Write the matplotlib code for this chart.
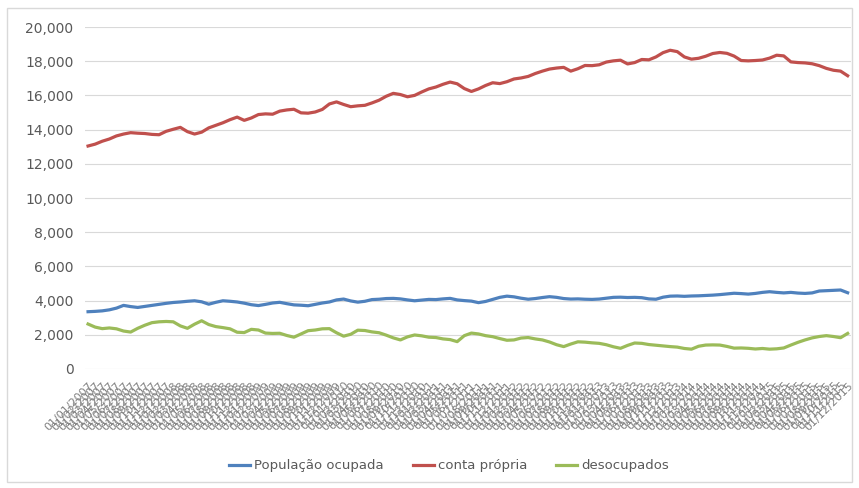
import numpy as np
import pandas as pd
import matplotlib
matplotlib.use('Agg')
import matplotlib.pyplot as plt
from matplotlib.ticker import FuncFormatter
from matplotlib.patches import Rectangle

# monthly categories (labels are unreadable in the original, dd/mm/yyyy)
meses = list(pd.date_range('2007-01-01', periods=108, freq='MS').strftime('%d/%m/%Y'))

conta_propria = [
    13040, 13150, 13320, 13450, 13630, 13740, 13820, 13790, 13770, 13720,
    13700, 13900, 14020, 14130, 13880, 13740, 13850, 14100, 14250, 14400,
    14580, 14730, 14540, 14680, 14880, 14920, 14900, 15080, 15150, 15190,
    14980, 14960, 15030, 15180, 15500, 15620, 15470, 15340, 15390, 15420,
    15560, 15720, 15950, 16120, 16050, 15920, 16000, 16200, 16380, 16490,
    16650, 16780, 16680, 16400, 16230, 16380, 16580, 16740, 16690, 16800,
    16960, 17020, 17110, 17280, 17420, 17540, 17600, 17640, 17420, 17560,
    17750, 17740, 17790, 17950, 18020, 18060, 17840, 17920, 18100, 18080,
    18250, 18500, 18640, 18560, 18250, 18120, 18170, 18290, 18450, 18510,
    18460, 18300, 18040, 18020, 18040, 18070, 18180, 18350, 18310, 17960,
    17920, 17900, 17850, 17740, 17580, 17470, 17420, 17150]

populacao_ocupada = [
    3350, 3370, 3400, 3460, 3560, 3720, 3650, 3600, 3660, 3720,
    3780, 3840, 3890, 3920, 3960, 3990, 3930, 3790, 3900, 3990,
    3960, 3920, 3850, 3760, 3710, 3780, 3860, 3900, 3820, 3750,
    3730, 3700, 3780, 3860, 3920, 4040, 4090, 3980, 3910, 3960,
    4060, 4080, 4120, 4130, 4100, 4040, 3990, 4030, 4070, 4060,
    4100, 4130, 4040, 4000, 3970, 3880, 3950, 4070, 4190, 4260,
    4220, 4140, 4080, 4120, 4180, 4230, 4190, 4120, 4090, 4100,
    4080, 4070, 4090, 4140, 4190, 4200, 4180, 4190, 4170, 4100,
    4080, 4200, 4260, 4270, 4250, 4270, 4280, 4300, 4320, 4350,
    4390, 4430, 4410, 4380, 4420, 4480, 4520, 4480, 4450, 4480,
    4440, 4420, 4450, 4560, 4580, 4600, 4620, 4460]

desocupados = [
    2630, 2450, 2360, 2400, 2350, 2220, 2160, 2380, 2560, 2710,
    2760, 2780, 2760, 2520, 2380, 2620, 2820, 2600, 2480, 2420,
    2350, 2150, 2130, 2320, 2280, 2100, 2080, 2090, 1960, 1860,
    2050, 2240, 2280, 2350, 2360, 2120, 1920, 2030, 2270, 2250,
    2170, 2120, 1980, 1820, 1700, 1880, 1990, 1940, 1860, 1840,
    1760, 1720, 1600, 1950, 2100, 2050, 1950, 1890, 1780, 1680,
    1700, 1810, 1840, 1760, 1700, 1580, 1420, 1310, 1460, 1590,
    1570, 1530, 1500, 1420, 1300, 1210, 1380, 1520, 1500, 1430,
    1390, 1350, 1310, 1280, 1200, 1160, 1330, 1400, 1410, 1400,
    1320, 1220, 1230, 1210, 1170, 1200, 1160, 1180, 1230, 1400,
    1560, 1700, 1820, 1900, 1950, 1900, 1830, 2080]

plt.rcParams['font.family'] = ['DejaVu Sans']
cinza = '#595959'

fig = plt.figure(figsize=(8.59, 4.88), dpi=100)
fig.patches.append(Rectangle((7/859, 6/488), 845/859, 474/488, transform=fig.transFigure,
                             fill=False, edgecolor='#D9D9D9', linewidth=1))

ax = fig.add_axes([84.5/859, 1 - 369/488, (851.2 - 84.5)/859, (369 - 27)/488])

x = np.arange(len(meses))
ax.plot(x, populacao_ocupada, color='#4F81BD', lw=2.3, label='População ocupada')
ax.plot(x, conta_propria, color='#C0504D', lw=2.3, label='conta própria')
ax.plot(x, desocupados, color='#9BBB59', lw=2.3, label='desocupados')

ax.set_xlim(-0.5, len(meses) - 0.5)
ax.set_ylim(0, 20000)
ax.set_yticks(np.arange(0, 20001, 2000))
ax.yaxis.set_major_formatter(FuncFormatter(lambda v, p: '{:,.0f}'.format(v)))
ax.grid(axis='y', color='#D9D9D9', lw=0.8)
ax.set_axisbelow(True)
for s in ax.spines.values():
    s.set_visible(False)

ax.set_xticks(x)
ax.set_xticklabels(meses, rotation=45, ha='right', rotation_mode='anchor', fontsize=8, color='#7F7F7F')
ax.tick_params(axis='x', length=0, pad=8)
ax.tick_params(axis='y', length=0, pad=8, labelsize=10, labelcolor=cinza)

ax.legend(loc='center', bbox_to_anchor=(449/859, 1 - 466/488), bbox_transform=fig.transFigure,
          ncol=3, frameon=False, fontsize=9.5, handlelength=1.6, handletextpad=0.3,
          columnspacing=2.2, labelcolor=cinza)

fig.savefig('out.png', dpi=100)
